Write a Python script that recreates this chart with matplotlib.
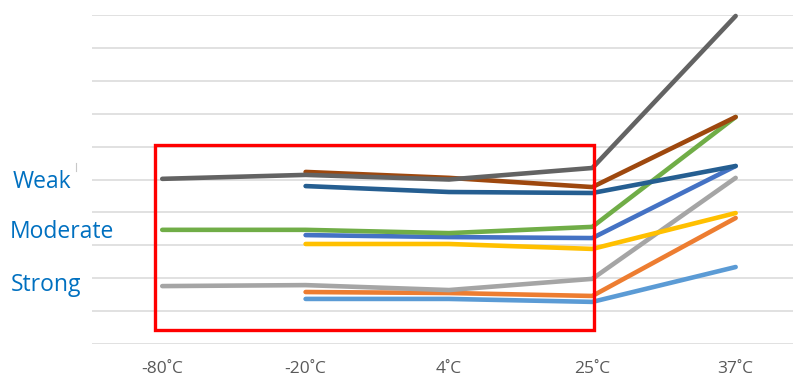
import matplotlib
matplotlib.use('Agg')
import matplotlib.pyplot as plt
from matplotlib.patches import Rectangle
from matplotlib.lines import Line2D
import numpy as np

plt.rcParams['font.family'] = ['Open Sans', 'DejaVu Sans']

temps = ['-80˚C', '-20˚C', '4˚C', '25˚C', '37˚C']

# one series per sample, None where not measured
s_blue = [None, 3.31, 3.25, 3.22, 5.41]
s_orange = [None, 1.58, 1.55, 1.46, 3.83]
s_gray = [1.76, 1.79, 1.64, 1.98, 5.05]
s_yellow = [None, 3.04, 3.04, 2.89, 3.98]
s_lightblue = [None, 1.37, 1.37, 1.28, 2.34]
s_green = [3.47, 3.47, 3.37, 3.56, 6.90]
s_darkblue = [None, 4.80, 4.62, 4.59, 5.41]
s_brown = [None, 5.23, 5.05, 4.77, 6.90]
s_darkgray = [5.02, 5.14, 5.00, 5.35, 9.97]

series = [
    (s_blue, '#4472C4'),
    (s_orange, '#ED7D31'),
    (s_gray, '#A5A5A5'),
    (s_yellow, '#FFC000'),
    (s_lightblue, '#5B9BD5'),
    (s_green, '#70AD47'),
    (s_darkblue, '#255E91'),
    (s_brown, '#9E480E'),
    (s_darkgray, '#636363'),
]

strength_labels = ['Weak', 'Moderate', 'Strong']
strength_levels = [4.93, 3.39, 1.80]
label_left = [13, 10, 11]

fig = plt.figure(figsize=(7.93, 3.79), dpi=100)
ax = fig.add_axes([92 / 793, (379 - 344) / 379, 1 - 92 / 793, 329 / 379])

x = np.arange(len(temps))
for vals, col in series:
    y = np.array([np.nan if v is None else v for v in vals], dtype=float)
    ax.plot(x, y, color=col, lw=3.3, solid_capstyle='round',
            solid_joinstyle='round', clip_on=False, zorder=3)

ax.set_xlim(-0.49, 4.40)
ax.set_ylim(0, 10)
ax.set_yticks(np.arange(0, 11, 1))
ax.set_yticklabels([])
ax.grid(axis='y', color='#D9D9D9', lw=1.1, zorder=0)
ax.set_xticks(x)
ax.set_xticklabels(temps, color='#595959', fontsize=12.5)
ax.tick_params(axis='both', length=0, pad=12)
for sp in ax.spines.values():
    sp.set_visible(False)

# highlight box over the storage temperatures
ax.add_patch(Rectangle((-0.05, 0.43), 3.06, 5.62, fill=False,
                       edgecolor='#FF0000', lw=2.4, zorder=5, clip_on=False))

for lab, lev, lx in zip(strength_labels, strength_levels, label_left):
    ax.annotate(lab, xy=(0, lev), xycoords=('figure pixels', 'data'),
                xytext=(lx, 0), textcoords='offset pixels',
                color='#0070C0', fontsize=16.5, va='center', ha='left')

fig.add_artist(Line2D([76 / 793, 76 / 793], [1 - 163 / 379, 1 - 171 / 379],
                      color='#C8C8C8', lw=0.8))

fig.savefig('out.png', dpi=100)
